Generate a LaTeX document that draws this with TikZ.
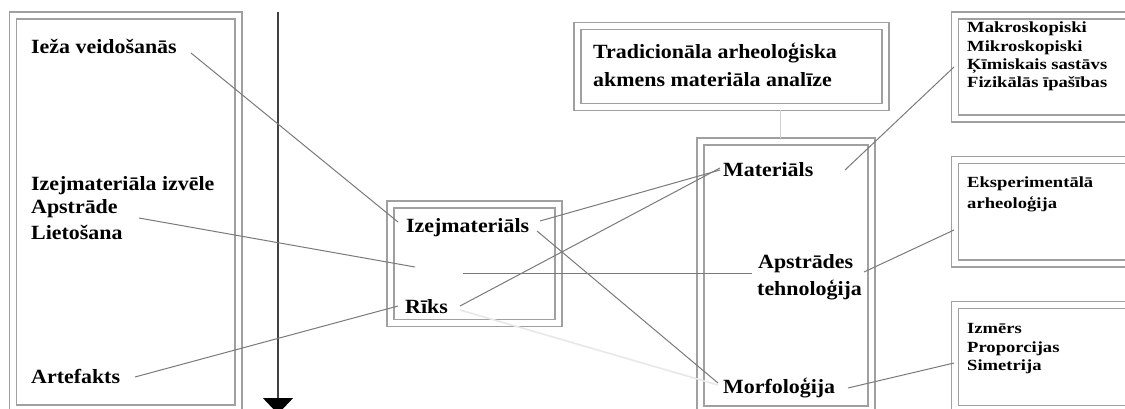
\documentclass[tikz,border=0pt]{standalone}
\usepackage{fontspec}
\setmainfont{Liberation Serif}
\newfontfamily\bigfnt[FakeStretch=1.085]{Liberation Serif}
\newfontfamily\smallfnt[FakeStretch=1.2]{Liberation Serif}
\usetikzlibrary{arrows.meta}
\definecolor{boxgray}{HTML}{A0A0A0}
\definecolor{linegray}{HTML}{7A7A7A}
\definecolor{faint}{HTML}{E8E8E8}
\definecolor{pale}{HTML}{CFCFCF}
\begin{document}
\begin{tikzpicture}[x=1pt,y=-1pt,
  dbox/.style={draw=boxgray,line width=1.3pt,double=white,double distance=5.7pt,
    anchor=north west,inner sep=0pt,outer sep=0pt},
  txt/.style={anchor=base west,inner sep=0pt,font=\bigfnt\bfseries\fontsize{20.2}{24}\selectfont},
  stxt/.style={anchor=base west,inner sep=0pt,font=\smallfnt\bfseries\fontsize{15.5}{19}\selectfont},
  conn/.style={draw=linegray,line width=1pt},
  faintconn/.style={draw=faint,line width=1.6pt},
  paleconn/.style={draw=pale,line width=1pt}]
\useasboundingbox (0,0) rectangle (1125,409);
\clip (0,0) rectangle (1125,409);
\fill[white] (0,0) rectangle (1125,409);

% boxes
\node[dbox,minimum width=225.5pt,minimum height=393pt] (leftbox) at (13,15.5) {};
\node[dbox,minimum width=168pt,minimum height=118.5pt] (midbox) at (390.5,204.5) {};
\node[dbox,minimum width=308pt,minimum height=81pt] (topbox) at (577.5,26) {};
\node[dbox,minimum width=171pt,minimum height=268pt] (matbox) at (700.5,141.5) {};
\node[dbox,minimum width=190pt,minimum height=103pt] (box1) at (955,15.5) {};
\node[dbox,minimum width=190pt,minimum height=103.5pt] (box2) at (955,160) {};
\node[dbox,minimum width=190pt,minimum height=104pt] (box3) at (955,305) {};

% time arrow
\coordinate (arrtop) at (278,12);
\coordinate (arrbot) at (278,414);
\draw[line width=1.2pt,draw=black!75,-{Triangle[width=30pt,length=16pt,color=black]}] (arrtop) -- (arrbot);

% texts
\node[txt] (ieza) at (31,54) {Ieža veidošanās};
\node[txt] (izv) at (31,190) {Izejmateriāla izvēle};
\node[txt] (apstr) at (31,214) {Apstrāde};
\node[txt] (liet) at (31,239) {Lietošana};
\node[txt] (artef) at (31,383) {Artefakts};
\node[txt] (izej) at (406,233) {Izejmateriāls};
\node[txt] (riks) at (405,313) {Rīks};
\node[txt] (trad1) at (593,59) {Tradicionāla arheoloģiska};
\node[txt] (trad2) at (593,87) {akmens materiāla analīze};
\node[txt] (mat) at (723,177) {Materiāls};
\node[txt] (apt1) at (758,268) {Apstrādes};
\node[txt] (apt2) at (757,295) {tehnoloģija};
\node[txt] (morf) at (723,393) {Morfoloģija};
\node[stxt] (mak) at (967,33) {Makroskopiski};
\node[stxt] (mik) at (967,52) {Mikroskopiski};
\node[stxt] (kim) at (967,70) {Ķīmiskais sastāvs};
\node[stxt] (fiz) at (967,88) {Fizikālās īpašības};
\node[stxt] (eks) at (967,188) {Eksperimentālā};
\node[stxt] (arh) at (967,208) {arheoloģija};
\node[stxt] (izm) at (967,333) {Izmērs};
\node[stxt] (pro) at (967,352) {Proporcijas};
\node[stxt] (sim) at (967,370) {Simetrija};

% connector end points
\coordinate (ieza-o) at (191,53);
\coordinate (izej-a) at (398,222);
\coordinate (apstr-o) at (139,218);
\coordinate (mid-c) at (415,267);
\coordinate (artef-o) at (135,377);
\coordinate (riks-a) at (398,306);
\coordinate (izej-o1) at (540,221);
\coordinate (izej-o2) at (537,231);
\coordinate (riks-o1) at (460,306);
\coordinate (riks-o2) at (460,310);
\coordinate (mid-h) at (463,273);
\coordinate (mat-a1) at (720,170);
\coordinate (mat-a2) at (720,168);
\coordinate (apt-a) at (752,273);
\coordinate (morf-a1) at (718,383);
\coordinate (morf-a2) at (718,385);
\coordinate (top-o) at (780,110);
\coordinate (matbox-a) at (780,138);
\coordinate (mat-o) at (845,170);
\coordinate (box1-a) at (954,67);
\coordinate (apt-o) at (864,272);
\coordinate (box2-a) at (954,230);
\coordinate (morf-o) at (848,388);
\coordinate (box3-a) at (954,363);

% connectors
\draw[conn] (ieza-o) -- (izej-a);
\draw[conn] (apstr-o) -- (mid-c);
\draw[conn] (artef-o) -- (riks-a);
\draw[conn] (izej-o1) -- (mat-a1);
\draw[conn] (izej-o2) -- (morf-a1);
\draw[conn] (riks-o1) -- (mat-a2);
\draw[conn] (mid-h) -- (apt-a);
\draw[faintconn] (riks-o2) -- (morf-a2);
\draw[paleconn] (top-o) -- (matbox-a);
\draw[conn] (mat-o) -- (box1-a);
\draw[conn] (apt-o) -- (box2-a);
\draw[conn] (morf-o) -- (box3-a);
\end{tikzpicture}
\end{document}
